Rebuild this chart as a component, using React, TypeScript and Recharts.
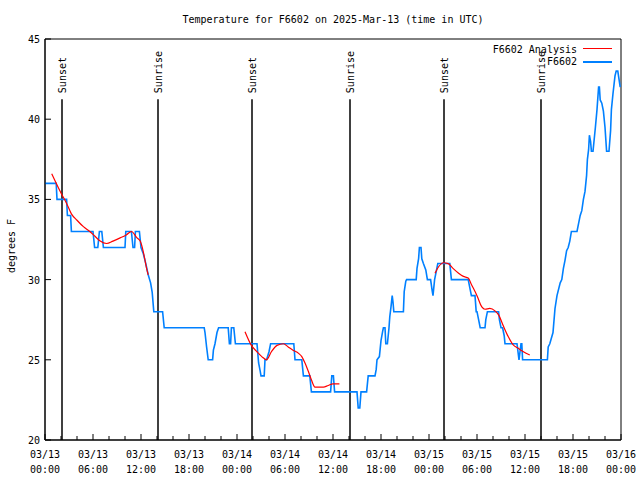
import { LineChart, Line, XAxis, YAxis, ReferenceLine, ReferenceArea } from "recharts";

// hours since 03/13 00:00 UTC
const obsHours = [0, 1.4, 1.5, 2.7, 2.8, 3.2, 3.3, 6.0, 6.2, 6.6, 6.8, 7.1, 7.3, 10.0, 10.1, 10.8, 11.0, 11.2, 11.3, 11.8, 12.0, 12.3, 12.6, 12.9, 13.2, 13.4, 13.6, 14.7, 14.9, 19.9, 20.0, 20.2, 20.4, 20.95, 21.05, 21.25, 21.5, 21.7, 22.9, 23.05, 23.2, 23.3, 23.6, 23.8, 26.5, 26.7, 26.9, 27.0, 27.4, 27.5, 27.7, 28.0, 28.2, 31.1, 31.25, 32.1, 32.3, 33.1, 33.3, 35.7, 35.85, 36.05, 36.2, 39.0, 39.15, 39.35, 39.5, 40.2, 40.4, 41.25, 41.4, 41.5, 41.8, 41.9, 42.0, 42.2, 42.3, 42.5, 42.6, 42.8, 43.0, 43.1, 43.25, 43.4, 43.5, 43.6, 44.8, 44.9, 45.1, 45.2, 46.4, 46.5, 46.7, 46.8, 47.0, 47.1, 47.3, 47.6, 47.8, 48.2, 48.4, 48.5, 48.7, 48.9, 49.1, 50.6, 50.8, 52.9, 53.1, 53.3, 53.75, 53.9, 54.0, 54.2, 54.4, 55.0, 55.1, 55.3, 56.7, 56.8, 57.0, 57.2, 57.4, 57.5, 59.0, 59.25, 59.5, 59.6, 59.7, 62.8, 62.9, 63.1, 63.5, 63.6, 63.75, 64.0, 64.4, 64.6, 64.8, 65.0, 65.2, 65.4, 65.6, 65.8, 66.5, 66.7, 66.9, 67.1, 67.3, 67.5, 67.7, 67.8, 67.95, 68.05, 68.2, 68.3, 68.5, 68.7, 68.8, 69.0, 69.2, 69.3, 69.4, 69.6, 69.8, 70.0, 70.2, 70.5, 70.7, 70.8, 71.0, 71.25, 71.4, 71.6, 71.75, 71.9];
const obsTemps = [36, 36, 35, 35, 34, 34, 33, 33, 32, 32, 33, 33, 32, 32, 33, 33, 32, 32, 33, 33, 32, 31.6, 31, 30.3, 29.8, 29.2, 28, 28, 27, 27, 26.7, 25.8, 25, 25, 25.6, 26, 26.7, 27, 27, 26, 26, 27, 27, 26, 26, 24.8, 24.3, 24, 24, 25, 25, 25.5, 26, 26, 25, 25, 24, 24, 23, 23, 24, 24, 23, 23, 22, 22, 23, 23, 24, 24, 24.4, 25, 25.2, 25.7, 26.2, 26.75, 27, 27, 26, 26, 27, 27.7, 28.3, 29, 28.6, 28, 28, 29.25, 29.9, 30, 30, 30.7, 31.3, 32, 32, 31.3, 31, 30.6, 30, 30, 29.3, 29, 30, 30.5, 31, 31, 30, 30, 29.5, 29, 29, 28, 28, 27.5, 27, 27, 27.5, 28, 28, 27.5, 27, 27, 26.5, 26, 26, 25, 26, 26, 25, 25, 25.8, 26, 26.7, 27.3, 28.2, 29, 29.8, 30, 30.7, 31.2, 31.8, 32, 32.4, 33, 33, 33.5, 34, 34.3, 35, 35.5, 36.5, 37.5, 38.1, 39, 38.6, 38, 38, 39, 39.5, 40.6, 42, 42, 41.2, 41, 40.5, 39.5, 38, 38, 39.3, 40.6, 41.6, 42.7, 43, 43, 42.5, 42];

const anaHoursA = [0.84, 2.0, 2.7, 3.3, 4.0, 4.8, 5.6, 6.25, 6.9, 7.7, 8.5, 9.4, 10.2, 10.8, 11.5, 11.9, 12.3, 12.5, 12.7, 12.9];
const anaTempsA = [36.6, 35.4, 34.75, 34.1, 33.7, 33.3, 33.0, 32.7, 32.4, 32.25, 32.4, 32.6, 32.8, 33.0, 32.6, 32.4, 31.7, 31.2, 30.7, 30.3];
const anaHoursB = [25.0, 25.8, 26.5, 27.1, 27.7, 28.3, 29.0, 29.8, 30.4, 31.0, 31.7, 32.1, 32.5, 32.9, 33.3, 33.75, 34.2, 34.8, 35.4, 36.0, 36.8];
const anaTempsB = [26.75, 25.9, 25.5, 25.2, 25.0, 25.5, 25.9, 26.0, 25.8, 25.6, 25.4, 25.2, 24.8, 24.3, 23.75, 23.3, 23.3, 23.3, 23.4, 23.5, 23.5];
const anaHoursC = [48.75, 49.2, 49.8, 50.4, 51.0, 51.7, 52.3, 52.9, 53.3, 54.0, 54.6, 55.0, 55.6, 56.25, 56.7, 57.3, 57.9, 58.5, 59.2, 59.8, 60.6];
const anaTempsC = [30.4, 30.8, 31.05, 31.0, 30.7, 30.4, 30.2, 30.1, 29.7, 29.0, 28.3, 28.15, 28.2, 28.05, 27.8, 27.1, 26.45, 25.95, 25.7, 25.5, 25.3];

const sunHours = [2.125, 14.125, 25.875, 38.125, 49.875, 62];
const sunLabels = ["Sunset", "Sunrise", "Sunset", "Sunrise", "Sunset", "Sunrise"];
const sunLineTop = 41.25;

const majorHours = [0, 6, 12, 18, 24, 30, 36, 42, 48, 54, 60, 66, 72];
const dateLabels = ["03/13", "03/13", "03/13", "03/13", "03/14", "03/14", "03/14", "03/14", "03/15", "03/15", "03/15", "03/15", "03/16"];
const timeLabels = ["00:00", "06:00", "12:00", "18:00", "00:00", "06:00", "12:00", "18:00", "00:00", "06:00", "12:00", "18:00", "00:00"];
const xTicks = Array.from({ length: 37 }, (_, i) => i * 2);
const yTicks = [20, 25, 30, 35, 40, 45];

const FONT = "'DejaVu Sans Mono', monospace";
const zip = (hs: number[], ts: number[]) => hs.map((h, i) => ({ h, t: ts[i] }));
const obsData = zip(obsHours, obsTemps);
const anaData = [zip(anaHoursA, anaTempsA), zip(anaHoursB, anaTempsB), zip(anaHoursC, anaTempsC)];

function BottomTick({ x, y, payload }: any) {
  const i = majorHours.indexOf(payload.value);
  return <g>
    <line x1={x} x2={x} y1={y} y2={y - (i >= 0 ? 6 : 4)} stroke="#000" />
    {i >= 0 && <text x={x} y={y + 18} textAnchor="middle" fontSize={10} fontFamily={FONT} fill="#000">{dateLabels[i]}</text>}
    {i >= 0 && <text x={x} y={y + 33} textAnchor="middle" fontSize={10} fontFamily={FONT} fill="#000">{timeLabels[i]}</text>}
  </g>;
}
function TopTick({ x, y, payload }: any) {
  const major = majorHours.includes(payload.value);
  return <line x1={x} x2={x} y1={y} y2={y + (major ? 6 : 4)} stroke="#000" />;
}
function LeftTick({ x, y, payload }: any) {
  return <g>
    <line x1={x} x2={x + 6} y1={y} y2={y} stroke="#000" />
    <text x={x - 5} y={y + 4} textAnchor="end" fontSize={10} fontFamily={FONT} fill="#000">{payload.value}</text>
  </g>;
}
function RightTick({ x, y }: any) {
  return <line x1={x} x2={x - 6} y1={y} y2={y} stroke="#000" />;
}
function SunLabel({ viewBox, text }: any) {
  const x = viewBox.x + 4, y = viewBox.y - 6;
  return <text x={x} y={y} transform={`rotate(-90 ${x} ${y})`} fontSize={10} fontFamily={FONT} fill="#000">{text}</text>;
}

export default function App() {
  return <div style={{ position: "absolute", left: 0, top: 0, width: 640, height: 480, background: "#fff", fontFamily: FONT, fontSize: 10 }}>
    <div style={{ position: "absolute", left: 0, width: 640, top: 13, textAlign: "center", paddingLeft: 26, boxSizing: "border-box", lineHeight: "14px" }}>Temperature for F6602 on 2025-Mar-13 (time in UTC)</div>
    <div style={{ position: "absolute", left: 12, top: 246, transform: "translate(-50%, -50%) rotate(-90deg)", whiteSpace: "nowrap", lineHeight: "12px" }}>degrees F</div>
    <LineChart width={640} height={480} margin={{ top: 38, right: 18, bottom: 0, left: 0 }}>
      <XAxis xAxisId="b" type="number" dataKey="h" domain={[0, 72]} ticks={xTicks} interval={0} height={40} tickSize={0} tickMargin={0} tickLine={false} axisLine={{ stroke: "#000" }} tick={<BottomTick />} />
      <XAxis xAxisId="t" orientation="top" type="number" dataKey="h" domain={[0, 72]} ticks={xTicks} interval={0} height={1} tickSize={0} tickMargin={0} tickLine={false} axisLine={false} tick={<TopTick />} />
      <YAxis yAxisId="l" type="number" domain={[20, 45]} ticks={yTicks} interval={0} width={45} tickSize={0} tickMargin={0} tickLine={false} axisLine={{ stroke: "#000" }} tick={<LeftTick />} />
      <YAxis yAxisId="r" orientation="right" type="number" domain={[20, 45]} ticks={yTicks} interval={0} width={1} tickSize={0} tickMargin={0} tickLine={false} axisLine={false} tick={<RightTick />} />
      <ReferenceArea xAxisId="b" yAxisId="l" x1={0} x2={72} y1={20} y2={45} fill="none" stroke="#000" strokeWidth={1} />
      {sunHours.map((h, i) => <ReferenceLine key={i} xAxisId="b" yAxisId="l" segment={[{ x: h, y: 20 }, { x: h, y: sunLineTop }]} stroke="#000" strokeWidth={1.5} label={(p: any) => <SunLabel {...p} text={sunLabels[i]} />} />)}
      <Line xAxisId="b" yAxisId="l" data={obsData} dataKey="t" type="linear" stroke="#0080ff" strokeWidth={1.6} dot={false} isAnimationActive={false} />
      {anaData.map((d, i) => <Line key={i} xAxisId="b" yAxisId="l" data={d} dataKey="t" type="monotone" stroke="#ff0000" strokeWidth={1.2} dot={false} isAnimationActive={false} />)}
    </LineChart>
    <div style={{ position: "absolute", right: 640 - 577, top: 44, lineHeight: "12px", textAlign: "right" }}>F6602 Analysis</div>
    <div style={{ position: "absolute", left: 583, top: 48, width: 29, height: 1, background: "#ff0000" }} />
    <div style={{ position: "absolute", right: 640 - 577, top: 56, lineHeight: "12px", textAlign: "right" }}>F6602</div>
    <div style={{ position: "absolute", left: 583, top: 61, width: 29, height: 2, background: "#0080ff" }} />
  </div>;
}
